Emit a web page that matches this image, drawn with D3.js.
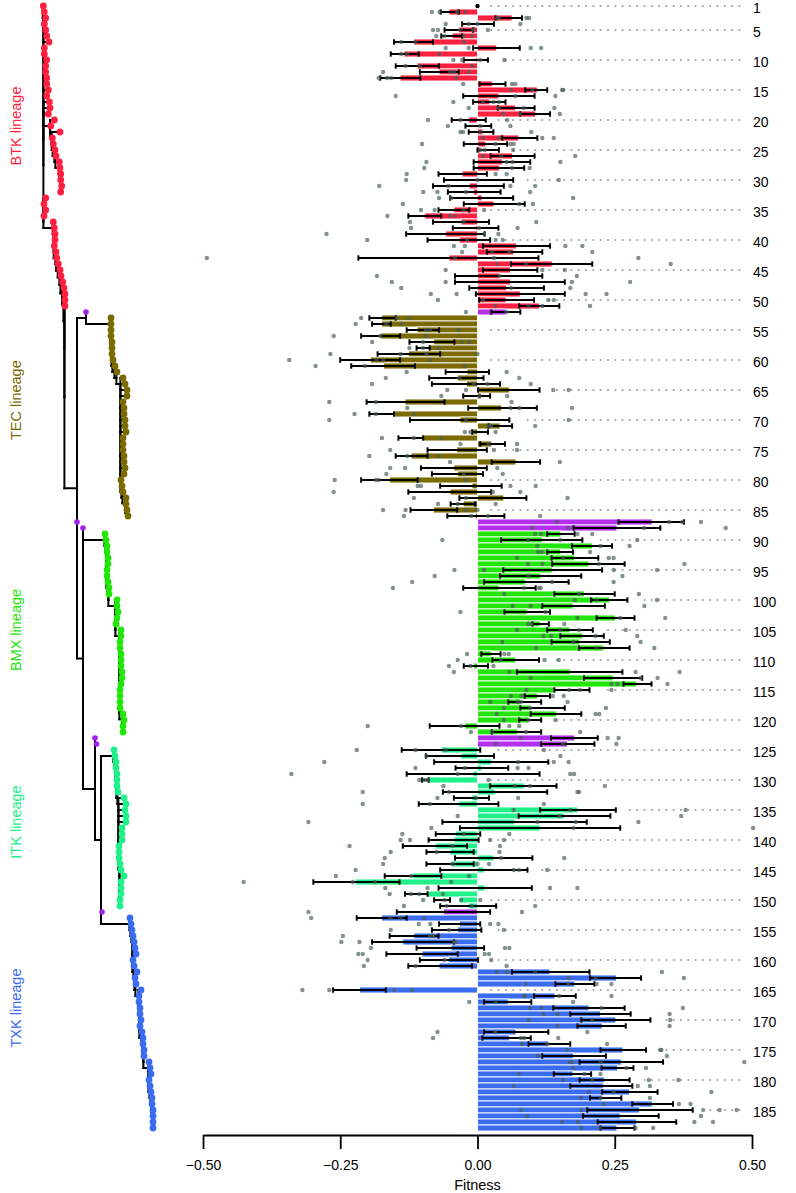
<!DOCTYPE html>
<html>
<head>
<meta charset="utf-8">
<script src="https://cdn.jsdelivr.net/npm/d3@7"></script>
<style>
  body { margin: 0; background: #fff; }
  svg { display: block; font-family: "Liberation Sans", Arial, Helvetica, sans-serif; }
</style>
</head>
<body>
<svg id="chart" width="796" height="1193"></svg>
<script>
// ---- data (rows 1..188, top to bottom) ----
const fitness = [
  0, -0.052, 0.063, 0.0, -0.034, -0.046, -0.116, 0.035, -0.134, -0.003,
  -0.110, -0.070, -0.141, 0.027, 0.109, 0.039, 0.022, 0.069, 0.106, -0.016,
  -0.002, 0.010, 0.075, 0.015, 0.005, 0.064, 0.045, 0.040, -0.028, 0.0,
  -0.015, -0.007, 0.008, 0.030, -0.043, -0.096, -0.030, -0.003, -0.058, -0.033,
  0.071, 0.066, -0.052, 0.136, 0.060, 0.040, 0.060, 0.053, 0.078, 0.052,
  0.113, 0.052, -0.175, -0.175, -0.110, -0.177, -0.080, -0.089, -0.126, -0.195,
  -0.171, -0.019, -0.036, -0.020, 0.058, 0.007, -0.132, 0.044, -0.151, -0.032,
  0.041, -0.010, -0.099, 0.026, -0.038, -0.121, 0.070, -0.043, -0.036, -0.160,
  -0.010, -0.050, 0.048, -0.026, -0.080, -0.004, 0.318, 0.254, 0.152, 0.118,
  0.209, 0.151, 0.177, 0.203, 0.136, 0.115, 0.087, 0.039, 0.195, 0.241,
  0.174, 0.090, 0.251, 0.114, 0.168, 0.191, 0.186, 0.230, 0.025, 0.069,
  -0.007, 0.169, 0.247, 0.290, 0.139, 0.109, 0.079, 0.097, 0.144, 0.093,
  -0.023, 0.073, 0.177, 0.164, -0.066, -0.030, 0.025, 0.008, -0.008, -0.091,
  0.085, 0.032, -0.010, -0.034, 0.183, 0.158, 0.068, 0.114, -0.040, -0.043,
  -0.076, -0.050, 0.030, -0.048, 0.012, -0.118, -0.222, 0.013, -0.093, -0.033,
  -0.017, -0.062, -0.175, -0.033, -0.036, -0.116, -0.136, -0.048, -0.101, -0.053,
  -0.070, 0.132, 0.253, 0.177, -0.215, 0.141, 0.056, 0.203, 0.224, 0.252,
  0.227, 0.070, 0.058, 0.129, 0.265, 0.175, 0.262, 0.255, 0.174, 0.231,
  0.229, 0.277, 0.227, 0.318, 0.295, 0.260, 0.290, 0.254
];

const errLow = [
  null, -0.067, 0.033, -0.028, -0.060, -0.066, -0.152, -0.008, -0.158, -0.025,
  -0.149, -0.105, -0.177, 0.004, 0.087, -0.026, -0.008, 0.037, 0.078, -0.047,
  -0.022, -0.016, 0.045, -0.025, 0.0, 0.024, -0.007, -0.007, -0.071, -0.061,
  -0.081, -0.054, -0.050, -0.025, -0.071, -0.126, -0.081, -0.045, -0.130, -0.091,
  0.010, 0.017, -0.217, 0.061, 0.010, -0.041, -0.041, -0.015, -0.003, 0.003,
  0.076, 0.025, -0.197, -0.192, -0.129, -0.212, -0.124, -0.111, -0.182, -0.250,
  -0.230, -0.058, -0.088, -0.083, 0.001, -0.026, -0.202, -0.017, -0.197, -0.123,
  0.020, -0.010, -0.144, 0.005, -0.091, -0.149, 0.026, -0.103, -0.083, -0.212,
  -0.068, -0.126, -0.033, -0.049, -0.122, -0.055, 0.257, 0.175, 0.127, 0.043,
  0.172, 0.127, 0.135, 0.136, 0.047, 0.041, 0.012, -0.026, 0.140, 0.207,
  0.118, 0.049, 0.217, 0.100, 0.127, 0.151, 0.135, 0.185, 0.007, 0.027,
  -0.025, 0.072, 0.194, 0.266, 0.140, 0.086, 0.056, 0.078, 0.097, 0.076,
  -0.087, 0.026, 0.134, 0.116, -0.138, -0.094, -0.079, -0.040, -0.129, -0.101,
  0.023, -0.063, -0.043, -0.107, 0.114, 0.075, -0.064, -0.032, -0.076, -0.089,
  -0.136, -0.093, -0.041, -0.093, -0.068, -0.169, -0.299, -0.071, -0.132, -0.079,
  -0.068, -0.147, -0.220, -0.070, -0.083, -0.160, -0.192, -0.111, -0.166, -0.105,
  -0.126, 0.063, 0.205, 0.142, -0.263, 0.103, 0.012, 0.138, 0.169, 0.189,
  0.182, 0.012, 0.009, 0.093, 0.224, 0.118, 0.186, 0.226, 0.139, 0.186,
  0.169, 0.227, 0.205, 0.282, 0.200, 0.192, 0.219, 0.224
];

const errHigh = [
  null, -0.034, 0.081, 0.030, -0.008, -0.028, -0.081, 0.077, -0.107, 0.019,
  -0.070, -0.034, -0.104, 0.051, 0.127, 0.104, 0.051, 0.104, 0.132, 0.015,
  0.025, 0.029, 0.109, 0.054, 0.039, 0.104, 0.096, 0.085, 0.017, 0.065,
  0.048, 0.042, 0.065, 0.086, -0.015, -0.066, 0.021, 0.038, 0.013, 0.023,
  0.132, 0.118, 0.111, 0.209, 0.109, 0.118, 0.159, 0.121, 0.159, 0.103,
  0.149, 0.078, -0.149, -0.158, -0.070, -0.141, -0.042, -0.087, -0.068, -0.141,
  -0.114, 0.021, 0.011, 0.041, 0.113, 0.023, -0.060, 0.108, -0.152, 0.058,
  0.063, 0.019, -0.099, 0.050, 0.017, -0.091, 0.114, 0.017, 0.010, -0.109,
  0.044, 0.025, 0.089, -0.004, -0.037, 0.049, 0.376, 0.333, 0.177, 0.191,
  0.245, 0.174, 0.220, 0.268, 0.227, 0.189, 0.166, 0.106, 0.250, 0.273,
  0.232, 0.132, 0.286, 0.130, 0.210, 0.230, 0.241, 0.277, 0.042, 0.112,
  0.019, 0.264, 0.300, 0.317, 0.204, 0.132, 0.116, 0.159, 0.189, 0.116,
  0.040, 0.116, 0.219, 0.213, 0.005, 0.030, 0.129, 0.056, 0.113, -0.089,
  0.144, 0.127, 0.021, 0.038, 0.252, 0.242, 0.199, 0.260, 0.005, 0.002,
  -0.019, -0.007, 0.100, -0.007, 0.091, -0.066, -0.142, 0.099, -0.091, -0.050,
  0.034, 0.023, -0.129, 0.005, 0.007, -0.071, -0.043, 0.012, -0.036, 0.001,
  -0.010, 0.204, 0.298, 0.213, -0.167, 0.179, 0.098, 0.268, 0.279, 0.315,
  0.270, 0.129, 0.097, 0.169, 0.307, 0.234, 0.338, 0.284, 0.207, 0.277,
  0.282, 0.328, 0.262, 0.356, 0.392, 0.330, 0.362, 0.286
];

const replicates = [
  [0], [-0.083, -0.069, -0.037, -0.022], [0.036, 0.039, 0.089, 0.094], [-0.058, -0.016, 0.0, 0.078],
  [-0.081, -0.072, -0.031, -0.008, 0.019], [-0.075, -0.061, -0.025, -0.010], [-0.139, -0.113, -0.025],
  [-0.058, -0.016, 0.097, 0.116], [-0.139, -0.128, -0.070], [-0.044, -0.028, 0.005, 0.049],
  [-0.131, -0.105, -0.010], [-0.172, -0.050, -0.043, -0.016], [-0.180, -0.165, -0.157, -0.038],
  [-0.026, 0.063, 0.069], [0.061, 0.100, 0.154, 0.156], [-0.149, 0.069, 0.142],
  [-0.044, 0.010, 0.029, 0.039], [-0.016, 0.039, 0.084, 0.140], [0.047, 0.078, 0.150],
  [-0.090, -0.031, 0.054], [-0.054, 0.005, 0.060], [-0.031, -0.026, 0.005, 0.098],
  [0.010, 0.039, 0.118, 0.139], [-0.101, 0.033, 0.060, 0.066], [0.005, 0.013, 0.065],
  [0.010, 0.043, 0.178], [-0.093, 0.053, 0.064, 0.151], [-0.097, 0.063, 0.095],
  [-0.129, 0.033, 0.053], [-0.130, 0.0, 0.148], [-0.179, -0.053, 0.060, 0.105],
  [-0.099, -0.073, -0.021, 0.096], [-0.070, -0.048, 0.174], [-0.136, 0.076, 0.101],
  [-0.103, -0.078, -0.025, 0.012], [-0.164, -0.050, -0.041], [-0.123, -0.025, 0.107],
  [-0.121, 0.003, 0.073], [-0.275, 0.012, 0.038], [-0.201, -0.019, 0.033, 0.046],
  [-0.043, -0.023, 0.160, 0.191], [-0.028, 0.026, 0.058, 0.209], [-0.493, -0.041, 0.030, 0.293],
  [0.036, 0.089, 0.352], [-0.058, 0.118, 0.159], [-0.183, 0.040, 0.181],
  [-0.156, -0.058, 0.172, 0.278], [-0.139, 0.061, 0.169], [-0.085, -0.038, 0.197, 0.235],
  [-0.072, 0.010, 0.129, 0.139], [0.032, 0.093, 0.118, 0.205], [-0.021, 0.053],
  [-0.212, -0.147, -0.125], [-0.222, -0.166, -0.139], [-0.094, -0.086, -0.035],
  [-0.262, -0.177, -0.094], [-0.192, -0.099, -0.028, -0.015], [-0.124, -0.099, -0.071],
  [-0.268, -0.140, -0.093, 0.0], [-0.343, -0.184, -0.172, -0.086], [-0.295, -0.205, -0.023],
  [-0.129, 0.053], [-0.167, -0.033, 0.076], [-0.192, -0.007, 0.018, 0.097],
  [-0.055, -0.021, 0.138, 0.166], [-0.066, 0.003, 0.054], [-0.270, -0.185, 0.062],
  [-0.128, 0.060, 0.076, 0.172], [-0.224, -0.185, -0.116], [-0.270, -0.021, 0.166],
  [0.020, 0.025, 0.105], [-0.023, -0.013, 0.033], [-0.174, -0.116, -0.066],
  [-0.031, 0.020, 0.072], [-0.159, 0.030, 0.072], [-0.197, -0.128, -0.071],
  [-0.050, 0.150], [-0.159, -0.132, 0.036], [-0.166, -0.025, 0.046],
  [-0.260, -0.185, -0.180, -0.021], [-0.109, -0.103, 0.060, 0.106], [-0.262, 0.028, 0.078],
  [-0.116, -0.021, 0.164], [-0.072, -0.036, 0.033], [-0.172, -0.131, -0.022, 0.0],
  [-0.134, -0.012, 0.019, 0.114], [0.144, 0.349, 0.373, 0.407], [0.100, 0.165, 0.304, 0.452],
  [0.105, 0.116, 0.182, 0.209], [-0.064, 0.092, 0.151, 0.291], [0.109, 0.224, 0.277],
  [0.110, 0.117, 0.205], [0.072, 0.156, 0.239, 0.248], [0.092, 0.118, 0.221, 0.377],
  [-0.042, 0.012, 0.248, 0.327], [-0.078, 0.093, 0.264], [-0.119, 0.136, 0.248],
  [-0.154, 0.085, 0.112, 0.115], [0.049, 0.185, 0.294], [0.177, 0.217, 0.327],
  [0.064, 0.097, 0.304], [-0.031, 0.124], [0.182, 0.260, 0.342], [0.092, 0.098, 0.158],
  [0.072, 0.151, 0.185, 0.270], [0.120, 0.134, 0.215, 0.291], [0.045, 0.175, 0.297],
  [0.107, 0.217, 0.322], [-0.019, 0.049, 0.057], [-0.036, 0.042, 0.122, 0.148],
  [-0.052, -0.013, 0.029], [-0.043, 0.058, 0.288, 0.368], [0.097, 0.297, 0.328],
  [0.244, 0.255, 0.346], [0.089, 0.167, 0.187, 0.244], [0.061, 0.080, 0.137, 0.157],
  [0.023, 0.073, 0.079, 0.164], [0.048, 0.096, 0.234], [0.035, 0.215, 0.222],
  [0.048, 0.093, 0.142], [-0.200, -0.030, 0.058, 0.076], [-0.012, 0.026, 0.088, 0.187],
  [0.079, 0.237, 0.257], [0.033, 0.156, 0.253], [-0.220, -0.113, -0.058, 0.121],
  [-0.093, 0.151], [-0.279, 0.074, 0.139, 0.166], [-0.113, -0.023, 0.073, 0.093],
  [-0.339, -0.036, 0.169, 0.176], [-0.106, -0.097, -0.091, 0.020], [-0.062, 0.068, 0.096, 0.232],
  [-0.209, -0.052, 0.182, 0.185], [-0.073, -0.003, 0.074], [-0.209, -0.087, 0.121],
  [0.066, 0.169, 0.379], [-0.036, 0.149, 0.371], [-0.308, 0.109, 0.179, 0.293],
  [-0.084, 0.175, 0.502], [-0.137, -0.025, 0.058], [-0.140, -0.123, 0.023, 0.048],
  [-0.233, -0.046, 0.041], [-0.158, -0.075, 0.040], [-0.169, 0.043, 0.158],
  [-0.172, -0.046, 0.0, 0.021], [-0.222, 0.066, 0.076, 0.127], [-0.258, -0.121, -0.015],
  [-0.426, -0.227, -0.187, -0.048], [-0.168, -0.091, 0.132, 0.182], [-0.160, -0.121, -0.106, -0.063],
  [-0.099, -0.060, -0.030, 0.005], [-0.134, -0.056, -0.010, 0.105], [-0.308, 0.081],
  [-0.303, -0.159, -0.140, -0.097], [-0.107, -0.086, 0.023, 0.038], [-0.158, -0.052, 0.048],
  [-0.245, -0.086, -0.080], [-0.248, -0.215, -0.043, -0.040], [-0.194, 0.050, 0.058],
  [-0.217, -0.209, 0.013, 0.021], [-0.200, -0.060, 0.025], [-0.207, -0.113, 0.053],
  [0.035, 0.053, 0.105, 0.336], [0.166, 0.215, 0.376], [0.088, 0.166, 0.217, 0.244],
  [-0.319, -0.270, -0.152, -0.119], [0.085, 0.086, 0.149, 0.244], [-0.015, 0.033, 0.174],
  [0.096, 0.116, 0.226, 0.374], [0.120, 0.146, 0.350], [0.093, 0.209, 0.351],
  [0.146, 0.350], [-0.073, 0.032, 0.200], [-0.081, 0.079, 0.085, 0.147],
  [0.081, 0.127, 0.236], [0.163, 0.333, 0.335], [0.109, 0.345],
  [0.168, 0.172, 0.224, 0.486], [0.174, 0.271, 0.307], [0.075, 0.195, 0.224],
  [0.156, 0.209, 0.312, 0.366], [0.066, 0.292, 0.314], [0.203, 0.248, 0.426],
  [0.188, 0.224, 0.314], [0.230, 0.367, 0.388], [0.080, 0.189, 0.411, 0.441, 0.472],
  [0.090, 0.407], [0.154, 0.183, 0.395, 0.429], [0.189, 0.223, 0.288, 0.320]
];

// lineages and reconstructed ancestors
const lineageNames = ["BTK lineage", "TEC lineage", "BMX lineage", "ITK lineage", "TXK lineage"];
const lineageFirst = [1, 53, 89, 125, 153];
const lineageLast = [51, 86, 122, 151, 188];
const lineageColors = ["#ff2040", "#7a6a00", "#22e60a", "#20f08a", "#3a6cf0"];
const lineageLabelRow = [21, 66.7, 105, 137, 168];
const ancestorRows = [52, 87, 88, 123, 124, 152];
const ancestorBarColor = "#b42ff0";
const ancestorTipColor = "#a020f0";

const labeledRows = [1].concat(d3.range(5, 186, 5));
const xTicks = [-0.5, -0.25, 0, 0.25, 0.5];

// tree: tip depth of every row (branch length from the root)
const tipDepth = [
  0.3, 1.3, 2.7, 1.3, 2.7, 3.7, 6, 1.3, 1.3, 3.7, 2.7, 2.7, 3.7, 3.7, 5.3, 3.7, 6.3, 7, 5.3,
  11.3, 7.7, 17, 9.3, 10.3, 12, 13, 16.3, 17, 17.7, 17.7, 18.7, 17.7,
  2.7, 1, 2.7, 1,
  10.3, 11.3, 12, 12, 11.3, 13, 13.7, 15.3, 17, 18, 19.7, 21, 22, 22, 22,
  43,
  68, 68, 68, 68, 69, 69, 69, 70, 72, 74,
  80, 82, 84, 84, 80, 81, 81, 82, 82, 83, 80, 80, 80, 81, 81, 82, 81, 78, 79, 80, 83, 83, 84, 85,
  34, 40,
  62, 63, 64, 64, 65, 65, 64, 64, 65, 66, 66,
  74, 74, 75, 74, 73,
  78, 78, 77, 77, 78, 78, 78, 79, 79, 78, 77, 77, 77, 77, 80, 81, 80, 80,
  52, 53.5,
  71, 72, 73, 73, 74, 74, 74, 75, 81, 83, 82, 83, 83, 79, 79, 79, 76, 76, 76, 77, 78, 81, 78, 78, 78, 77, 77,
  59,
  87, 88, 89, 90, 91, 92, 93, 90, 91, 94, 92, 93, 98, 96, 96, 97, 97, 98, 97, 99, 100, 100, 101, 101,
  106, 107, 108, 106, 107, 108, 109, 109, 110, 110, 110, 110
];

function depthOf(n) { return typeof n === "number" ? tipDepth[n - 1] : n.d; }

// caterpillar clade: each node joins one item with the rest
function ladder(items) {
  let node = items[items.length - 1];
  for (let k = items.length - 2; k >= 0; k--) {
    node = { d: d3.min(items.slice(k), depthOf) - 0.6, c: [items[k], node] };
  }
  return node;
}

const TXK = ladder(d3.range(153, 189));
const ITK = ladder(d3.range(125, 152));
const G = { d: 58, c: [ITK, 152, TXK] };
const F = { d: 52, c: [123, 124, G] };
const BMX = ladder(d3.range(89, 123));
const E = { d: 40, c: [88, BMX, F] };
const TEC = ladder(d3.range(53, 87));
const T0 = { d: 43, c: [52, TEC] };
const D = { d: 34, c: [T0, 87, E] };
const btkLow = ladder([...d3.range(37, 52), D]);
const btkSub = ladder(d3.range(20, 33));
const tree = ladder([...d3.range(1, 20), btkSub, 33, 34, 35, 36, btkLow]);

// ---- scales ----
const svg = d3.select("#chart");
const x = d3.scaleLinear().domain([-0.5, 0.5]).range([203, 752]);
const y = d3.scaleLinear().domain([1, 188]).range([6, 1128]);
const tx = d3.scaleLinear().domain([0, 110]).range([43, 153]);

function rowColor(r) {
  if (ancestorRows.includes(r)) return ancestorBarColor;
  const k = lineageFirst.findIndex((f, i) => r >= f && r <= lineageLast[i]);
  return lineageColors[k];
}
function tipColor(r) {
  return ancestorRows.includes(r) ? ancestorTipColor : rowColor(r);
}

const rows = d3.range(1, 189);

// ---- tree ----
const segs = [];
function layout(n) {
  if (typeof n === "number") return { x: tx(tipDepth[n - 1]), y: y(n) };
  const kids = n.c.map(layout);
  const lo = d3.min(kids, k => k.y), hi = d3.max(kids, k => k.y);
  const nx = tx(n.d);
  segs.push([nx, lo, nx, hi]);
  kids.forEach(k => segs.push([nx, k.y, k.x, k.y]));
  return { x: nx, y: (lo + hi) / 2 };
}
layout(tree);

const treeG = svg.append("g");
treeG.selectAll("line").data(segs).join("line")
  .attr("x1", d => d[0]).attr("y1", d => d[1])
  .attr("x2", d => d[2]).attr("y2", d => d[3])
  .attr("stroke", "#000").attr("stroke-width", 2).attr("stroke-linecap", "square");

treeG.selectAll("circle").data(rows).join("circle")
  .attr("cx", r => tx(tipDepth[r - 1]))
  .attr("cy", r => y(r))
  .attr("r", r => ancestorRows.includes(r) ? 2.8 : 3.4)
  .attr("fill", tipColor);

svg.append("g").selectAll("text").data(lineageNames).join("text")
  .attr("transform", (d, i) => `translate(15.5,${y(lineageLabelRow[i])}) rotate(-90)`)
  .attr("text-anchor", "middle")
  .attr("dominant-baseline", "central")
  .attr("font-size", 14.5)
  .attr("fill", (d, i) => lineageColors[i])
  .text(d => d);

// ---- dotted guide lines for labelled rows ----
const dotStep = 7.3;
const guide = svg.append("g");
labeledRows.forEach(r => {
  const i = r - 1;
  const start = x(Math.max(0, fitness[i], errHigh[i] == null ? 0 : errHigh[i]) + 0.022);
  const xs = d3.range(x(0.477), start, -dotStep);
  guide.selectAll(null).data(xs).join("circle")
    .attr("cx", d => d).attr("cy", y(r)).attr("r", 1.1).attr("fill", "#a3a3a3");
});

// ---- bars ----
const barRows = rows.filter(r => r > 1);
svg.append("g").selectAll("rect").data(barRows).join("rect")
  .attr("x", r => Math.min(x(0), x(fitness[r - 1])))
  .attr("width", r => Math.abs(x(fitness[r - 1]) - x(0)))
  .attr("y", r => y(r) - 3)
  .attr("height", 6)
  .attr("fill", rowColor)
  .attr("stroke", "#fff")
  .attr("stroke-width", 0.9);

// ---- error bars ----
const eb = svg.append("g").attr("stroke", "#000").attr("stroke-width", 2);
barRows.forEach(r => {
  const i = r - 1, yc = y(r);
  eb.append("line").attr("x1", x(errLow[i])).attr("x2", x(errHigh[i])).attr("y1", yc).attr("y2", yc);
  [errLow[i], errHigh[i]].forEach(v => {
    eb.append("line").attr("x1", x(v)).attr("x2", x(v)).attr("y1", yc - 2.7).attr("y2", yc + 2.7);
  });
});

// ---- replicate points ----
const pts = [];
rows.forEach(r => replicates[r - 1].forEach(v => pts.push({ r, v })));
svg.append("g").selectAll("circle").data(pts).join("circle")
  .attr("cx", d => x(d.v))
  .attr("cy", d => y(d.r))
  .attr("r", 2.2)
  .attr("fill", d => d.r === 1 ? "#000" : "#4a5e5b")
  .attr("fill-opacity", d => d.r === 1 ? 1 : 0.68);

// ---- row labels ----
svg.append("g").selectAll("text").data(labeledRows).join("text")
  .attr("x", 753)
  .attr("y", r => y(r) + 1.6)
  .attr("dominant-baseline", "central")
  .attr("font-size", 14)
  .attr("fill", "#000")
  .text(r => r);

// ---- x axis ----
const axis = svg.append("g")
  .attr("transform", "translate(0,1135)")
  .call(d3.axisBottom(x).tickValues(xTicks).tickSize(14).tickSizeOuter(0).tickPadding(11)
    .tickFormat(d3.format(".2f")));
axis.select(".domain").attr("stroke-width", 1.8);
axis.selectAll(".tick line").attr("stroke-width", 1.8);
axis.selectAll(".tick text").attr("font-size", 14).attr("font-family", null);

svg.append("text")
  .attr("x", x(0)).attr("y", 1190)
  .attr("text-anchor", "middle")
  .attr("font-size", 14.5)
  .text("Fitness");
</script>
</body>
</html>
